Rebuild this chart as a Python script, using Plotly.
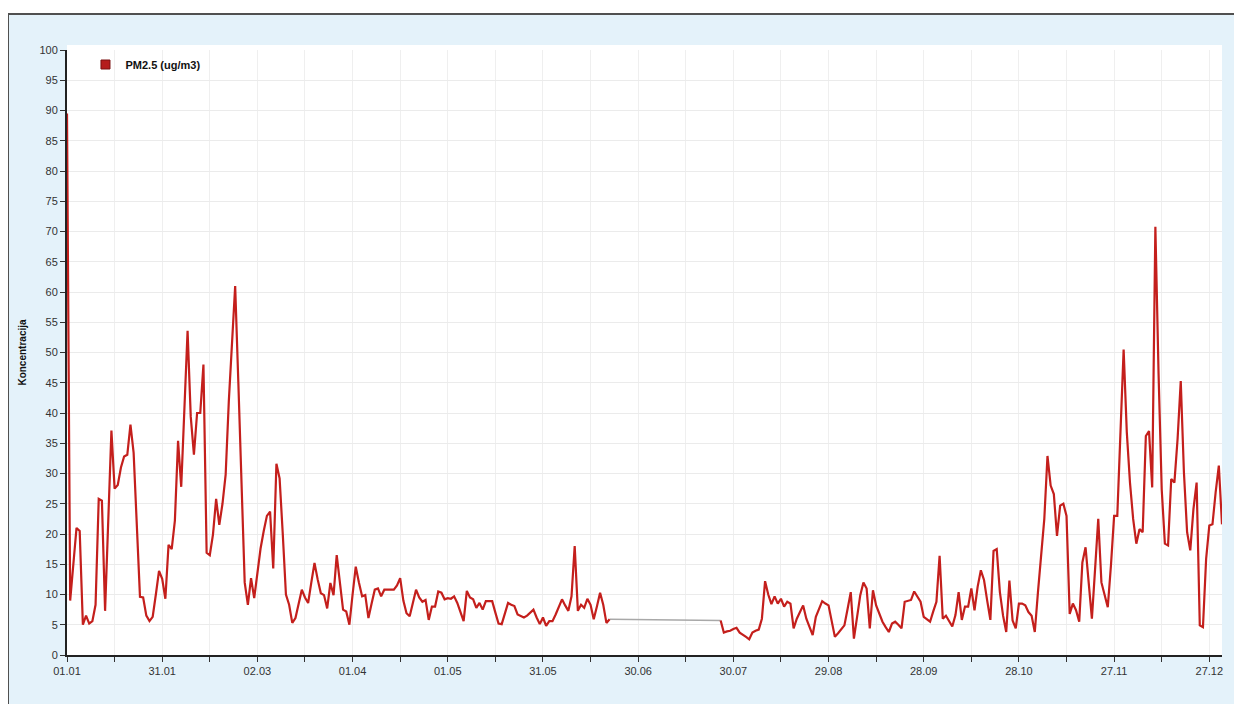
import plotly.graph_objects as go

# Daily PM2.5 values (ug/m3), one list per month; None = no measurement
jan = [89.5, 9, 15, 21, 20.5, 5, 6.5, 5.2, 5.6, 8.3, 25.8, 25.5, 7.3, 22, 37.1, 27.5, 28.1, 31, 32.8, 33.1,
       38.1, 33.4, 20, 9.6, 9.5, 6.5, 5.6, 6.3, 10, 13.9, 12.6]
feb = [9.3, 18.2, 17.5, 22.2, 35.4, 27.8, 40, 53.6, 39.4, 33.1, 40, 40, 48, 16.9, 16.5, 19.9, 25.8, 21.5, 25, 29.8,
       42, 52, 61, 45, 28, 12, 8.3, 12.7]
mar = [9.4, 13.5, 17.6, 20.5, 23, 23.7, 14.3, 31.6, 29.2, 20, 10, 8.3, 5.3, 6.1, 8.5, 10.8, 9.5, 8.6, 12, 15.2,
       12.5, 10.2, 9.9, 7.7, 11.9, 9.9, 16.5, 12, 7.5, 7.2, 5]
apr = [10, 14.6, 12, 9.7, 9.9, 6.1, 8.5, 10.8, 11, 9.7, 10.8, 10.8, 10.8, 10.8, 11.5, 12.7, 9, 6.9, 6.4, 8.5,
       10.8, 9.5, 8.8, 9.1, 5.8, 8, 8, 10.5, 10.3, 9.2]
may = [9.4, 9.3, 9.7, 8.6, 7, 5.6, 10.6, 9.5, 9.2, 7.8, 8.6, 7.5, 8.9, 8.9, 8.9, 7, 5.2, 5.1, 7, 8.6,
       8.3, 8.1, 6.7, 6.4, 6.2, 6.5, 7, 7.5, 6.2, 5.1, 6.2]
jun = [4.8, 5.6, 5.6, 6.7, 8, 9.2, 8.2, 7.3, 9.7, 18, 7.3, 8.3, 7.8, 9.3, 8.3, 5.9, 8, 10.3, 8.3, 5.3,
       5.9, None, None, None, None, None, None, None, None, None]
jul = [None] * 25 + [5.7, 3.7, 3.9, 4.0, 4.3, 4.5]
aug = [3.7, 3.4, 3.0, 2.6, 3.7, 4.0, 4.2, 6, 12.2, 10, 8.4, 9.7, 8.5, 9.3, 8, 8.8, 8.5, 4.4, 6, 7.1,
       8.2, 6.0, 4.7, 3.3, 6.3, 7.6, 8.9, 8.5, 8.2, 5.6, 3.0]
sep = [3.6, 4.2, 4.9, 7.6, 10.4, 2.7, 6.3, 9.9, 12, 11, 4.4, 10.7, 8.2, 6.8, 5.5, 4.6, 3.8, 5.2, 5.5, 5.0,
       4.4, 8.8, 9.0, 9.1, 10.5, 9.6, 8.8, 6.3, 5.9, 5.5]
oct_ = [7.2, 8.8, 16.4, 6.0, 6.5, 5.5, 4.7, 6.6, 10.4, 5.8, 8, 8, 11, 7.4, 11.3, 14, 12.4, 9, 5.8, 17.2,
        17.5, 10.4, 6.5, 3.8, 12.3, 5.7, 4.4, 8.5, 8.5, 8.2, 7.1]
nov = [6.5, 3.8, 10.4, 15.9, 22.5, 32.9, 28, 26.6, 19.7, 24.7, 25, 23, 6.8, 8.5, 7.4, 5.5, 15.3, 17.8, 12, 6,
       14.2, 22.5, 12, 10.1, 7.9, 14.8, 23, 23, 35.7, 50.5]
dec = [36.8, 28.5, 22.5, 18.4, 20.8, 20.3, 36.2, 37, 27.7, 70.8, 46.6, 27.4, 18.4, 18.1, 29.1, 28.5, 35.7, 45.3, 30.2, 20.3,
       17.3, 24.1, 28.5, 4.9, 4.6, 15.9, 21.4, 21.6, 26.9, 31.3, 21.6]

pm25 = jan + feb + mar + apr + may + jun + jul + aug + sep + oct_ + nov + dec
days = list(range(len(pm25)))

tick_days = [0, 30, 60, 90, 120, 150, 180, 210, 240, 270, 300, 330, 360]
tick_labels = ["01.01", "31.01", "02.03", "01.04", "01.05", "31.05", "30.06",
               "30.07", "29.08", "28.09", "28.10", "27.11", "27.12"]
series_name = "PM2.5 (ug/m3)"
y_title = "Koncentracija"

# gap connector (missing period drawn in grey)
valid = [i for i, v in enumerate(pm25) if v is not None]
gap_i = next(k for k in range(len(valid) - 1) if valid[k + 1] - valid[k] > 1)
gx = [valid[gap_i], valid[gap_i + 1]]
gy = [pm25[gx[0]], pm25[gx[1]]]

RED = "#c41f1c"
fig = go.Figure()
fig.add_trace(go.Scatter(x=gx, y=gy, mode="lines", line=dict(color="#a8a8a8", width=1.6),
                         showlegend=False, hoverinfo="skip"))
fig.add_trace(go.Scatter(x=days, y=pm25, mode="lines", line=dict(color=RED, width=2.2),
                         connectgaps=False, showlegend=False, name=series_name))
fig.add_trace(go.Scatter(x=[None], y=[None], mode="markers", name="<b>" + series_name + "</b>",
                         marker=dict(symbol="square", size=9, color="#b51c1c",
                                     line=dict(color="#7a1010", width=1))))

# page body adds an 8px offset; figure sized to fill the rest of the window
W, H = 1234, 696
L, R, T, B = 59, 20, 42, 49
pw, ph = W - L - R, H - T - B

def px_x(p):
    return (p - L) / pw

def px_y(p):
    return (H - B - p) / ph

fig.update_layout(
    width=W, height=H,
    margin=dict(l=L, r=R, t=T, b=B, autoexpand=False),
    paper_bgcolor="white",
    plot_bgcolor="white",
    font=dict(family="Arial, Liberation Sans, sans-serif", size=11, color="#333"),
    shapes=[
        dict(type="rect", xref="paper", yref="paper", layer="below",
             x0=px_x(0), x1=px_x(W + 10), y0=px_y(H + 10), y1=px_y(6),
             fillcolor="#e4f2fa", line=dict(color="#505050", width=2)),
        dict(type="rect", xref="paper", yref="paper", layer="below",
             x0=0, x1=1, y0=0, y1=px_y(37),
             fillcolor="white", line=dict(width=0)),
    ],
    legend=dict(x=0.016, y=1.0, xanchor="left", yanchor="top", itemwidth=30,
                bgcolor="rgba(0,0,0,0)", font=dict(size=11, color="#111",
                                                  family="Arial, Liberation Sans, sans-serif")),
    showlegend=True,
)
fig.update_xaxes(
    range=[0, 364], tickmode="array", tickvals=tick_days, ticktext=tick_labels,
    ticks="outside", ticklen=5, tickcolor="#333", showline=True, linecolor="#222", linewidth=2,
    showgrid=True, gridcolor="#efefef", zeroline=False,
    minor=dict(tickmode="linear", tick0=0, dtick=15, ticks="outside", ticklen=5,
               tickcolor="#333", showgrid=True, gridcolor="#efefef"),
    tickfont=dict(size=11, color="#333"),
)
fig.update_yaxes(
    range=[0, 100], dtick=5, ticks="outside", ticklen=5, tickcolor="#333",
    showline=True, linecolor="#222", linewidth=2,
    showgrid=True, gridcolor="#ebebeb", zeroline=False,
    tickfont=dict(size=11, color="#333"),
    title=dict(text="<b>" + y_title + "</b>", font=dict(size=10, color="#111"), standoff=11),
)

fig.write_html("out.html")
